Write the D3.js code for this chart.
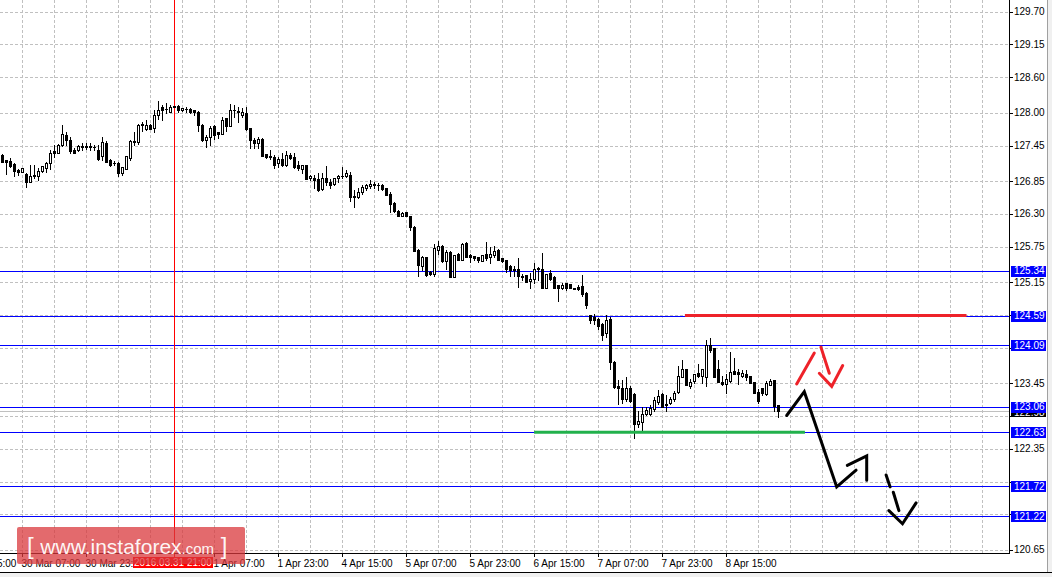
<!DOCTYPE html>
<html><head><meta charset="utf-8">
<script src="https://cdn.jsdelivr.net/npm/d3@7/dist/d3.min.js"></script>
<style>html,body{margin:0;padding:0;background:#fff;overflow:hidden}svg{display:block}</style>
</head><body><svg id="c" width="1052" height="577"></svg>
<script>
// ---------------- DATA ----------------
const opens = [127.29,127.20,127.19,127.14,127.04,127.01,126.97,126.84,126.95,126.94,127.02,127.08,127.15,127.36,127.33,127.46,127.63,127.54,127.37,127.37,
127.45,127.43,127.44,127.43,127.37,127.28,127.50,127.20,127.16,127.15,126.98,127.06,127.24,127.52,127.51,127.80,127.73,127.79,127.74,127.96,
128.09,128.07,128.02,128.10,128.12,128.05,128.07,128.06,128.04,128.02,127.79,127.54,127.60,127.77,127.67,127.65,127.91,127.78,128.04,128.03,
127.97,128.00,127.74,127.54,127.49,127.56,127.30,127.27,127.26,127.15,127.23,127.12,127.29,127.26,127.12,127.06,127.12,126.90,126.91,126.88,
126.72,126.90,126.84,126.81,126.90,126.93,126.94,126.96,126.60,126.58,126.67,126.73,126.77,126.80,126.79,126.79,126.73,126.63,126.49,126.35,
126.27,126.33,126.26,126.08,125.70,125.43,125.57,125.33,125.29,125.69,125.76,125.51,125.66,125.24,125.63,125.52,125.81,125.61,125.59,125.57,
125.51,125.62,125.57,125.61,125.70,125.55,125.52,125.42,125.38,125.37,125.26,125.27,125.17,125.21,125.39,125.37,125.06,125.30,125.24,125.10,
125.06,125.13,125.12,125.05,125.07,125.08,124.97,124.60,124.57,124.54,124.45,124.29,124.54,123.81,123.40,123.38,123.18,123.38,123.27,122.77,
122.80,122.93,122.93,123.02,123.14,123.27,123.11,123.12,123.18,123.30,123.56,123.69,123.41,123.49,123.63,123.58,123.56,124.09,124.04,123.69,
123.48,123.44,123.49,123.65,123.64,123.57,123.60,123.57,123.47,123.30,123.37,123.27,123.43,123.50,123.08];
const highs = [127.30,127.21,127.24,127.15,127.06,127.08,126.98,127.12,127.13,127.07,127.10,127.18,127.37,127.46,127.47,127.80,127.68,127.60,127.40,127.46,
127.49,127.49,127.49,127.46,127.46,127.60,127.52,127.22,127.19,127.18,127.09,127.27,127.54,127.68,127.82,127.85,127.88,127.82,128.05,128.20,
128.13,128.16,128.13,128.12,128.13,128.08,128.09,128.08,128.05,128.03,127.81,127.63,127.77,127.79,127.68,127.93,127.92,128.14,128.13,128.10,
128.08,128.10,127.75,127.57,127.60,127.57,127.31,127.37,127.29,127.26,127.32,127.35,127.33,127.33,127.19,127.12,127.13,126.95,126.95,126.98,
126.98,127.10,126.88,126.91,126.95,127.09,127.04,127.01,126.70,126.73,126.78,126.81,126.87,126.84,126.82,126.81,126.74,126.67,126.50,126.36,
126.33,126.34,126.27,126.09,125.71,125.59,125.58,125.34,125.80,125.85,125.77,125.70,125.67,125.61,125.64,125.81,125.83,125.62,125.60,125.58,
125.61,125.83,125.75,125.76,125.71,125.56,125.53,125.44,125.43,125.55,125.29,125.28,125.30,125.47,125.41,125.65,125.29,125.35,125.25,125.11,
125.14,125.14,125.12,125.06,125.10,125.27,124.98,124.60,124.62,124.55,124.46,124.60,124.56,123.82,123.50,123.50,123.55,123.40,123.28,122.99,
123.06,123.05,123.08,123.22,123.34,123.28,123.25,123.22,123.33,123.75,123.84,123.70,123.52,123.61,123.77,123.70,124.18,124.22,124.05,123.84,
123.57,123.60,123.97,123.87,123.70,123.67,123.67,123.58,123.48,123.36,123.38,123.49,123.52,123.50,123.08];
const lows = [127.17,126.97,127.09,126.94,126.95,127.00,126.76,126.83,126.90,126.87,127.00,127.01,127.06,127.26,127.32,127.45,127.46,127.33,127.32,127.36,
127.37,127.39,127.38,127.37,127.20,127.20,127.17,127.11,127.13,126.94,126.95,127.05,127.20,127.46,127.48,127.70,127.71,127.72,127.68,127.90,
127.88,128.00,128.02,128.09,128.02,128.03,128.02,128.00,127.97,127.70,127.53,127.42,127.46,127.56,127.57,127.65,127.69,127.78,127.93,127.85,
127.93,127.71,127.40,127.40,127.40,127.28,127.24,127.22,127.08,127.09,127.10,127.10,127.23,127.08,127.04,126.98,126.88,126.87,126.73,126.69,
126.70,126.78,126.74,126.78,126.83,126.90,126.92,126.51,126.42,126.56,126.64,126.71,126.74,126.73,126.70,126.71,126.61,126.34,126.34,126.26,
126.26,126.26,126.03,125.68,125.25,125.35,125.25,125.28,125.25,125.63,125.49,125.37,125.24,125.24,125.52,125.52,125.57,125.49,125.52,125.49,
125.50,125.53,125.48,125.57,125.53,125.49,125.33,125.26,125.25,125.07,125.19,125.16,125.05,125.13,125.19,125.05,125.05,125.19,125.06,124.84,
125.03,125.02,125.05,125.03,125.02,124.92,124.71,124.47,124.45,124.37,124.18,124.23,123.70,123.37,123.11,123.12,123.16,123.13,122.53,122.71,
122.63,122.91,122.91,122.99,123.11,123.06,122.98,123.11,123.16,123.29,123.56,123.42,123.38,123.45,123.56,123.45,123.40,123.98,123.55,123.48,
123.43,123.28,123.47,123.60,123.44,123.56,123.50,123.46,123.28,123.12,123.25,123.25,123.42,122.99,122.89];
const closes = [127.18,127.18,127.10,127.02,127.01,127.07,126.84,126.94,126.93,127.02,127.10,127.16,127.33,127.32,127.46,127.64,127.55,127.35,127.33,127.45,
127.43,127.44,127.43,127.42,127.23,127.51,127.18,127.12,127.15,126.98,127.09,127.27,127.52,127.51,127.79,127.81,127.80,127.73,127.96,128.05,
128.05,128.06,128.10,128.12,128.04,128.08,128.06,128.02,128.01,127.79,127.54,127.60,127.75,127.63,127.64,127.88,127.77,128.05,128.05,128.01,
128.02,127.72,127.54,127.49,127.56,127.28,127.25,127.25,127.12,127.22,127.12,127.29,127.24,127.09,127.08,127.12,126.88,126.94,126.87,126.70,
126.90,126.84,126.79,126.90,126.93,126.94,126.98,126.59,126.58,126.67,126.75,126.79,126.81,126.79,126.78,126.72,126.62,126.47,126.35,126.27,
126.32,126.27,126.08,125.68,125.44,125.58,125.27,125.29,125.72,125.76,125.51,125.66,125.24,125.61,125.52,125.79,125.58,125.58,125.55,125.52,
125.61,125.55,125.62,125.67,125.53,125.50,125.37,125.35,125.36,125.25,125.24,125.16,125.21,125.38,125.37,125.05,125.29,125.20,125.06,125.06,
125.10,125.05,125.05,125.03,125.03,124.96,124.77,124.52,124.52,124.41,124.26,124.52,123.81,123.39,123.37,123.18,123.38,123.16,122.76,122.82,
122.94,123.01,123.04,123.17,123.24,123.06,123.08,123.18,123.28,123.57,123.70,123.43,123.48,123.60,123.57,123.69,124.09,124.01,123.55,123.48,
123.44,123.52,123.64,123.61,123.60,123.63,123.55,123.46,123.29,123.15,123.29,123.46,123.49,123.07,122.98];

const priceTicks = [129.70,129.15,128.60,128.00,127.45,126.85,126.30,125.75,125.15,124.60,124.05,123.45,122.90,122.35,121.80,121.25,120.65];
const levelPrices = [125.34,124.59,124.09,123.06,122.63,121.72,121.22];
const bidPrice = 122.98;
const timeTickIndex = [-11,5,21,53,69,85,101,117,133,149,165,181];
const timeTickLabels = ["29 Mar 15:00","30 Mar 07:00","30 Mar 23:00","1 Apr 07:00","1 Apr 23:00","4 Apr 15:00","5 Apr 07:00","5 Apr 23:00","6 Apr 15:00","7 Apr 07:00","7 Apr 23:00","8 Apr 15:00"];
const cursorIndex = 43;
const cursorLabel = "2016.03.31 21:00";
// drawn annotations, in (bar index, price)
const resistanceSegment = [[170.6,124.59],[241,124.59]];
const supportSegment = [[132.9,122.63],[200.6,122.63]];
const blackPath = [[196.05,122.91],[200.45,123.31],[208.55,121.71],[213.4,121.99]];
const blackHead = [[211.2,122.07],[216.05,122.23],[216.05,121.82]];
const dashedStrokes = [[[220.9,121.91],[221.9,121.71]],[[222.7,121.62],[224.1,121.31]],[[221.6,121.31],[225.0,121.09],[228.4,121.44]]];
const redStrokes = [[[198.55,123.44],[202.95,123.96]],[[204.6,124.06],[206.7,123.62]],[[204.2,123.62],[207.3,123.40],[210.05,123.75]]];

// ---------------- DRAW ----------------
const svg = d3.select("#c");
const W = 1052, H = 577;
const plotRight = 1009, plotBottom = 553;
const FONT = "Liberation Sans, Arial, sans-serif";

const x = d3.scaleLinear().domain([0, 194]).range([2.5, 778.5]);
const y = d3.scaleLinear().domain([120.65, 129.70]).range([549.9, 11.7]);
const py = v => Math.round(y(v)) + 0.5;

svg.append("rect").attr("width", W).attr("height", H).attr("fill", "#fff");

// grid
const grid = svg.append("g").attr("stroke", "#c0c0c0").attr("stroke-dasharray", "3,2").attr("stroke-width", 1);
priceTicks.forEach(t => grid.append("line").attr("x1", 0).attr("x2", plotRight).attr("y1", py(t)).attr("y2", py(t)));
for (let i = 5 - 8; x(i) < plotRight; i += 8) {
  if (x(i) < 0) continue;
  const xx = Math.floor(x(i)) + 0.5;
  grid.append("line").attr("x1", xx).attr("x2", xx).attr("y1", 0).attr("y2", plotBottom);
}

// bid line
svg.append("line").attr("x1", 0).attr("x2", plotRight).attr("y1", py(bidPrice)).attr("y2", py(bidPrice))
  .attr("stroke", "#c0c0c0").attr("stroke-width", 1);

// level lines
svg.append("g").selectAll("line").data(levelPrices).join("line")
  .attr("x1", 0).attr("x2", plotRight).attr("y1", d => py(d)).attr("y2", d => py(d))
  .attr("stroke", "#0000ff").attr("stroke-width", 1);

// cursor line
svg.append("line").attr("x1", Math.floor(x(cursorIndex)) + 0.5).attr("x2", Math.floor(x(cursorIndex)) + 0.5)
  .attr("y1", 0).attr("y2", 558).attr("stroke", "#ff0000").attr("stroke-width", 1);

// candles
const idx = d3.range(opens.length);
const cg = svg.append("g");
idx.forEach(i => {
  const cx = Math.floor(x(i));
  const o = opens[i], c = closes[i], h = highs[i], l = lows[i];
  cg.append("line").attr("x1", cx + 0.5).attr("x2", cx + 0.5)
    .attr("y1", Math.round(y(h))).attr("y2", Math.round(y(l)) + 1).attr("stroke", "#000").attr("stroke-width", 1);
  const top = Math.round(y(Math.max(o, c))), bot = Math.round(y(Math.min(o, c)));
  if (c < o || bot - top < 2) {
    cg.append("rect").attr("x", cx - 1).attr("y", top).attr("width", 3).attr("height", Math.max(1, bot - top + 1)).attr("fill", "#000");
  } else {
    cg.append("rect").attr("x", cx - 0.5).attr("y", top + 0.5).attr("width", 2).attr("height", bot - top)
      .attr("fill", "#fff").attr("stroke", "#000").attr("stroke-width", 1);
  }
});

// support / resistance segments
const line = d3.line().x(d => x(d[0])).y(d => y(d[1]));
svg.append("path").attr("d", line(resistanceSegment)).attr("stroke", "#ee2229").attr("stroke-width", 3).attr("fill", "none");
svg.append("path").attr("d", line(supportSegment)).attr("stroke", "#22b14c").attr("stroke-width", 3).attr("fill", "none");

// hand-drawn arrows
const ag = svg.append("g").attr("fill", "none").attr("stroke-linecap", "round").attr("stroke-linejoin", "miter");
ag.append("path").attr("d", line(blackPath)).attr("stroke", "#000").attr("stroke-width", 3);
ag.append("path").attr("d", line(blackHead)).attr("stroke", "#000").attr("stroke-width", 3);
dashedStrokes.forEach(s => ag.append("path").attr("d", line(s)).attr("stroke", "#000").attr("stroke-width", 3));
redStrokes.forEach(s => ag.append("path").attr("d", line(s)).attr("stroke", "#ee2229").attr("stroke-width", 3));

// axes frame
svg.append("line").attr("x1", plotRight + 0.5).attr("x2", plotRight + 0.5).attr("y1", 0).attr("y2", plotBottom + 1).attr("stroke", "#000");
svg.append("line").attr("x1", 0).attr("x2", plotRight + 1).attr("y1", plotBottom + 0.5).attr("y2", plotBottom + 0.5).attr("stroke", "#000");

// right axis
const ra = svg.append("g").attr("font-family", FONT).attr("font-size", "10px");
const boxed = levelPrices.concat([bidPrice]);
priceTicks.forEach(t => {
  ra.append("line").attr("x1", plotRight).attr("x2", plotRight + 4).attr("y1", py(t)).attr("y2", py(t)).attr("stroke", "#000");
  const hidden = boxed.some(b => Math.abs(y(b) - y(t)) < 9);
  if (!hidden) ra.append("text").attr("x", 1014).attr("y", y(t) + 3.5).attr("fill", "#000").text(t.toFixed(2));
});
// bid label
ra.append("rect").attr("x", 1011).attr("y", Math.round(y(bidPrice)) - 5).attr("width", 35).attr("height", 11).attr("fill", "#000");
ra.append("text").attr("x", 1014).attr("y", y(bidPrice) + 4.5).attr("fill", "#fff").text(bidPrice.toFixed(2));
levelPrices.forEach(t => {
  ra.append("rect").attr("x", 1011).attr("y", Math.round(y(t)) - 5).attr("width", 35).attr("height", 11).attr("fill", "#0000ff");
  ra.append("text").attr("x", 1014).attr("y", y(t) + 3.5).attr("fill", "#fff").text(t.toFixed(2));
});

// bottom axis
const ba = svg.append("g").attr("font-family", FONT).attr("font-size", "10px");
timeTickIndex.forEach((ti, k) => {
  const xx = Math.floor(x(ti)) + 0.5;
  ba.append("line").attr("x1", xx).attr("x2", xx).attr("y1", plotBottom).attr("y2", plotBottom + 4).attr("stroke", "#000");
  ba.append("text").attr("x", xx - 1).attr("y", 567).attr("fill", "#000").text(timeTickLabels[k]);
});
// cursor label
const cx0 = Math.floor(x(cursorIndex));
ba.append("rect").attr("x", cx0 - 41).attr("y", 557).attr("width", 80).attr("height", 11).attr("fill", "#ff0000");
ba.append("text").attr("x", cx0 - 1).attr("y", 566).attr("text-anchor", "middle").attr("fill", "#fff").text(cursorLabel);

// bottom tabs strip
svg.append("rect").attr("x", 0).attr("y", 572).attr("width", W).attr("height", 5).attr("fill", "#f0f0f0");
svg.append("line").attr("x1", 0).attr("x2", W).attr("y1", 572.5).attr("y2", 572.5).attr("stroke", "#000");
// right strip
svg.append("rect").attr("x", 1047).attr("y", 0).attr("width", 5).attr("height", 572).attr("fill", "#f0f0f0");
svg.append("line").attr("x1", 1047.5).attr("x2", 1047.5).attr("y1", 0).attr("y2", 572).attr("stroke", "#a0a0a0");

// watermark
const wm = svg.append("g");
wm.append("rect").attr("x", 17).attr("y", 527).attr("width", 228).attr("height", 37).attr("rx", 2)
  .attr("fill", "#d9383c").attr("fill-opacity", 0.75);
const wt = wm.append("text").attr("x", 27).attr("y", 554).attr("fill", "#fff").attr("fill-opacity", 0.95)
  .attr("font-family", FONT);
wt.append("tspan").attr("font-size", "24px").text("[ ");
wt.append("tspan").attr("font-size", "21px").text("www.instaforex");
wt.append("tspan").attr("font-size", "15px").text(".com");
wt.append("tspan").attr("font-size", "24px").text(" ]");
</script></body></html>
